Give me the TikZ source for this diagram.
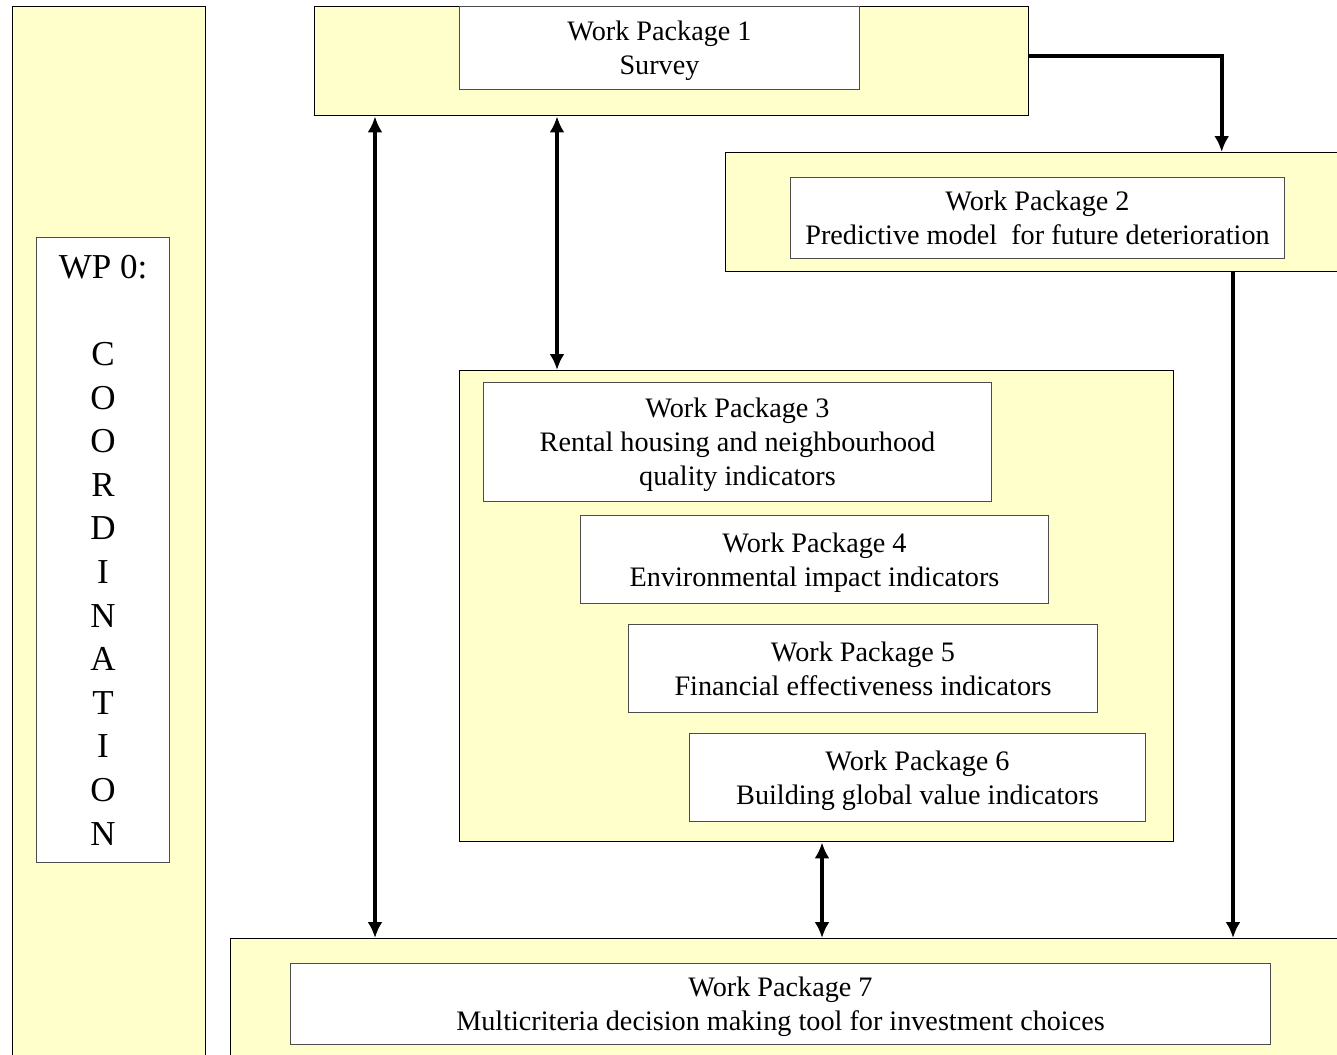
\documentclass[tikz,border=0pt]{standalone}
\usepackage{fontspec}
\setmainfont{Liberation Serif}
\usetikzlibrary{arrows.meta, positioning}
\definecolor{wpyellow}{HTML}{FFFFCC}
\tikzset{
  outerbox/.style={draw=black, line width=1.4pt, fill=wpyellow, anchor=north west, inner sep=0pt},
  innerbox/.style={draw=black!70, line width=1pt, fill=white, anchor=north west, inner sep=0pt,
    align=center, font=\fontsize{28.2}{34}\selectfont, text depth=0pt},
  link/.style={line width=4pt, -{Latex[length=16pt,width=15pt]}},
  twoway/.style={line width=4pt, {Latex[length=16pt,width=15pt]}-{Latex[length=16pt,width=15pt]}}
}

\begin{document}
\begin{tikzpicture}[x=1pt,y=-1pt]
\useasboundingbox (0,0) rectangle (1337,1054);

% frames
\node[outerbox, minimum width=193pt, minimum height=1100pt] (wp0) at (12,6) {};
\node[outerbox, minimum width=714pt, minimum height=109pt] (wp1) at (314,6) {};
\node[outerbox, minimum width=700pt, minimum height=119pt] (wp2) at (725,152) {};
\node[outerbox, minimum width=714pt, minimum height=471pt] (wp36) at (459,370) {};
\node[outerbox, minimum width=1200pt, minimum height=200pt] (wp7) at (230,938) {};

% work packages
\node[innerbox, minimum width=133pt, minimum height=625pt, font=\fontsize{35}{43.6}\selectfont,
  text depth=] (wp0t) at (36,237)
  {WP 0:\\[43.6pt]C\\O\\O\\R\\D\\I\\N\\A\\T\\I\\O\\N};
\node[innerbox, minimum width=400pt, minimum height=83pt] (wp1t) at (459,6) {Work Package 1\\Survey};
\node[innerbox, minimum width=494pt, minimum height=81pt] (wp2t) at (790,177)
  {Work Package 2\\Predictive model\ \ for future deterioration};
\node[innerbox, minimum width=508pt, minimum height=119pt] (wp3t) at (483,382)
  {Work Package 3\\Rental housing and neighbourhood\\quality indicators};
\node[innerbox, minimum width=468pt, minimum height=88pt] (wp4t) at (580,515)
  {Work Package 4\\Environmental impact indicators};
\node[innerbox, minimum width=469pt, minimum height=88pt] (wp5t) at (628,624)
  {Work Package 5\\Financial effectiveness indicators};
\node[innerbox, minimum width=456pt, minimum height=88pt] (wp6t) at (689,733)
  {Work Package 6\\Building global value indicators};
\node[innerbox, minimum width=980pt, minimum height=81pt] (wp7t) at (290,963)
  {Work Package 7\\Multicriteria decision making tool for investment choices};

% links
\draw[link] ([yshift=5pt]wp1.east) -| ([xshift=146pt]wp2.north);
\draw[twoway] ([xshift=61pt]wp1.south west) -- ([xshift=61pt]wp1.south west |- wp7.north);
\draw[twoway] ([xshift=243pt]wp1.south west) -- ([xshift=243pt]wp1.south west |- wp36.north);
\draw[link] ([xshift=508pt]wp2.south west) -- ([xshift=508pt]wp2.south west |- wp7.north);
\draw[twoway] ([xshift=363pt]wp36.south west) -- ([xshift=363pt]wp36.south west |- wp7.north);
\end{tikzpicture}
\end{document}
